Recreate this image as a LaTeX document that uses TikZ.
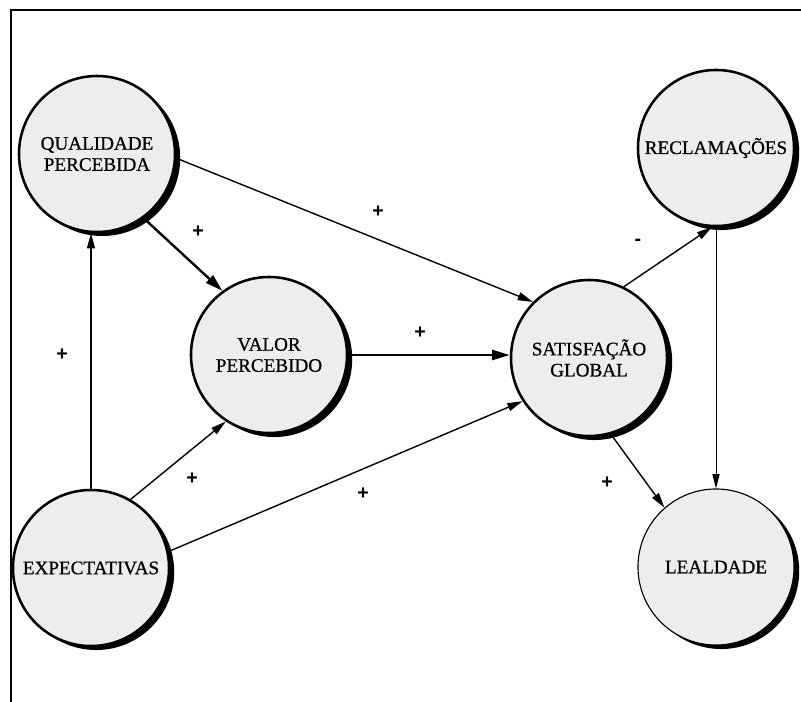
\documentclass[tikz,border=0pt]{standalone}
\usepackage{fontspec}
\setmainfont{Liberation Serif}
\newfontfamily\constructfont{Liberation Serif}[FakeBold=0.7]
\newfontfamily\signfont{Liberation Sans}
\usetikzlibrary{arrows.meta,shadows}

\tikzset{
  construct/.style={circle,draw=black,line width=1.8pt,fill=black!7,
    minimum size=3.9cm,inner sep=0pt,align=center,
    font=\constructfont\fontsize{13.6}{15}\selectfont,
    drop shadow={shadow xshift=0.13cm,shadow yshift=-0.1cm,opacity=1,fill=black}},
  link/.style={line width=1pt,-{Triangle[length=3.8mm,width=2mm]}},
  strong/.style={line width=1.7pt,-{Triangle[length=4.4mm,width=2.5mm]}},
  weak/.style={line width=0.7pt,-{Triangle[length=3.6mm,width=1.8mm]}},
  sign/.style={inner sep=0pt,font=\signfont\bfseries\fontsize{14}{14}\selectfont}
}

\begin{document}
\begin{tikzpicture}[x=0.025cm,y=-0.025cm]
  \useasboundingbox (0,0) rectangle (801,702);
  \draw[line width=0.8pt] (11,702) |- (801,10);
  % constructs
  \node(qual)[construct] at (97,154) {QUALIDADE\\PERCEBIDA};
  \node(valor)[construct] at (269,355) {VALOR\\PERCEBIDO};
  \node(satis)[construct] at (589,358) {SATISFAÇÃO\\GLOBAL};
  \node(recl)[construct] at (716,148) {RECLAMAÇÕES};
  \node(leal)[construct,line width=0.8pt] at (716,567) {LEALDADE};
  \node(expec)[construct] at (91,568) {EXPECTATIVAS};
  % links
  \draw[link] (expec.north) -- (expec.north |- qual.south);
  \draw[link] (expec.60) -- (valor.237);
  \draw[link] (expec.12) -- (satis.213);
  \draw[strong] (qual.306) -- (valor.126);
  \draw[link] (qual.-3) -- (satis.135);
  \draw[strong] (valor.east) -- (valor.east -| satis.west);
  \draw[link] (satis.64) -- (recl.267);
  \draw[link] (satis.286) -- (leal.131);
  \draw[weak] (recl.south) -- (leal.north);
  % signs
  \node(s1)[sign] at (62,355) {+};
  \node(s2)[sign] at (192,479) {+};
  \node(s3)[sign] at (363,494) {+};
  \node(s4)[sign] at (198,232) {+};
  \node(s5)[sign] at (378,212) {+};
  \node(s6)[sign] at (420,333) {+};
  \node(s7)[sign] at (638,242) {-};
  \node(s8)[sign] at (607,483) {+};
\end{tikzpicture}
\end{document}
